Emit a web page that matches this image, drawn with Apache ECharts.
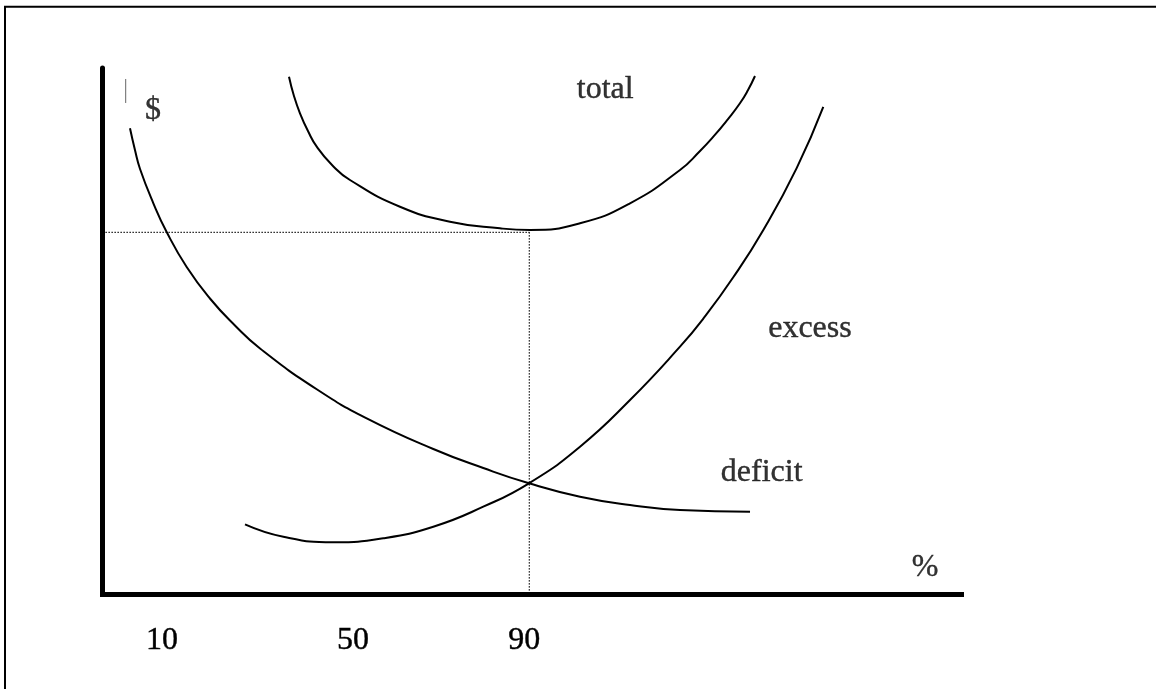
<!DOCTYPE html>
<html>
<head>
<meta charset="utf-8">
<script src="https://cdn.jsdelivr.net/npm/echarts@6/dist/echarts.min.js"></script>
<style>
  html, body { margin: 0; padding: 0; background: #fff; }
  #container { width: 1156px; height: 689px; }
</style>
</head>
<body>
<div id="container"></div>
<script>
// curves, in axis units (x 0..100, y 0..100)
let deficitX = [3.2, 3.78, 4.37, 5.91, 7.47, 9.8, 12.51, 15.42, 18.34, 24.94, 30.76, 38.51, 44.33, 49.65, 55.59, 61.41, 67.23, 75.38];
let deficitY = [88.54, 84.41, 80.8, 74.33, 68.82, 62.17, 56.18, 51.05, 46.67, 38.92, 33.4, 27.57, 23.95, 21.05, 18.5, 16.92, 15.97, 15.65];

let excessX = [16.59, 21.05, 26.87, 32.69, 38.51, 44.33, 49.65, 55.59, 61.41, 67.23, 69.94, 73.43, 76.93, 80.81, 83.91];
let excessY = [13.25, 10.89, 9.83, 10.59, 12.79, 16.6, 21.05, 28.0, 36.88, 47.02, 52.34, 60.21, 69.22, 80.97, 92.6];

let totalX = [21.71, 22.29, 22.99, 23.92, 24.94, 26.72, 28.81, 34.63, 40.45, 46.27, 49.77, 55.59, 61.41, 67.23, 69.56, 71.11, 72.82, 74.21, 75.15, 75.96];
let totalY = [98.35, 94.68, 91.39, 88.02, 85.04, 81.56, 78.71, 73.63, 70.78, 69.52, 69.2, 70.48, 74.28, 80.61, 84.22, 86.94, 90.3, 93.29, 95.82, 98.48];

// optimum point (dotted guide lines)
let optX = 49.69;
let optY = 68.76;

// stray cursor mark next to $
let markX = [2.7, 2.7];
let markY = [97.91, 93.35];

// x tick labels
let tickPos = [6.94, 29.16, 49.09];
let tickText = ['10', '50', '90'];

// curve / axis labels
let labelText = ['$', 'total', 'excess', 'deficit', '%'];
let labelX = [5.88, 58.53, 82.36, 76.74, 95.75];
let labelY = [91.98, 95.97, 50.53, 23.16, 5.1];

function pairs(xs, ys) {
    return xs.map((x, i) => [x, ys[i]]);
}

let font = 'Liberation Serif';
let curveStyle = { color: '#000', width: 2 };
let dotStyle = { color: '#000', width: 1.3, type: [1.3, 1.7] };

let dom = document.getElementById('container');
let chart = echarts.init(dom, null, { renderer: 'canvas' });

chart.setOption({
    animation: false,
    backgroundColor: '#fff',
    graphic: [{
        type: 'rect',
        shape: { x: 5, y: 6.8, width: 1300, height: 800 },
        style: { fill: 'none', stroke: '#000', lineWidth: 2 },
        silent: true
    }],
    grid: { left: 102.5, top: 68, width: 859, height: 526 },
    xAxis: {
        type: 'value', min: 0, max: 100,
        splitLine: { show: false },
        axisTick: { show: false },
        axisLine: { lineStyle: { color: '#000', width: 5, cap: 'square' } },
        axisLabel: {
            customValues: tickPos,
            formatter: (v) => tickText[tickPos.indexOf(v)],
            fontFamily: font, fontSize: 32, color: '#000', margin: 31,
            textBorderColor: '#000', textBorderWidth: 0.4
        }
    },
    yAxis: {
        type: 'value', min: 0, max: 100,
        splitLine: { show: false },
        axisTick: { show: false },
        axisLabel: { show: false },
        axisLine: { lineStyle: { color: '#000', width: 5 } }
    },
    series: [
        {
            name: 'deficit', type: 'line', data: pairs(deficitX, deficitY),
            smooth: 0.5, showSymbol: false, symbol: 'none', lineStyle: curveStyle
        },
        {
            name: 'excess', type: 'line', data: pairs(excessX, excessY),
            smooth: 0.5, showSymbol: false, symbol: 'none', lineStyle: curveStyle
        },
        {
            name: 'total', type: 'line', data: pairs(totalX, totalY),
            smooth: 0.5, showSymbol: false, symbol: 'none', lineStyle: curveStyle
        },
        {
            name: 'guideH', type: 'line', data: [[0, optY], [optX, optY]],
            symbol: 'none', lineStyle: dotStyle
        },
        {
            name: 'guideV', type: 'line', data: [[optX, optY], [optX, 0]],
            symbol: 'none', lineStyle: dotStyle
        },
        {
            name: 'mark', type: 'line', data: pairs(markX, markY),
            symbol: 'none', lineStyle: { color: '#666', width: 1 }
        },
        {
            name: 'labels', type: 'scatter', clip: false,
            symbolSize: 0,
            data: labelText.map((t, i) => ({ name: t, value: [labelX[i], labelY[i]] })),
            label: {
                show: true, position: 'inside', formatter: '{b}',
                fontFamily: font, fontSize: 32, color: '#000',
                textBorderColor: '#000', textBorderWidth: 0.4
            }
        }
    ]
});
</script>
</body>
</html>
